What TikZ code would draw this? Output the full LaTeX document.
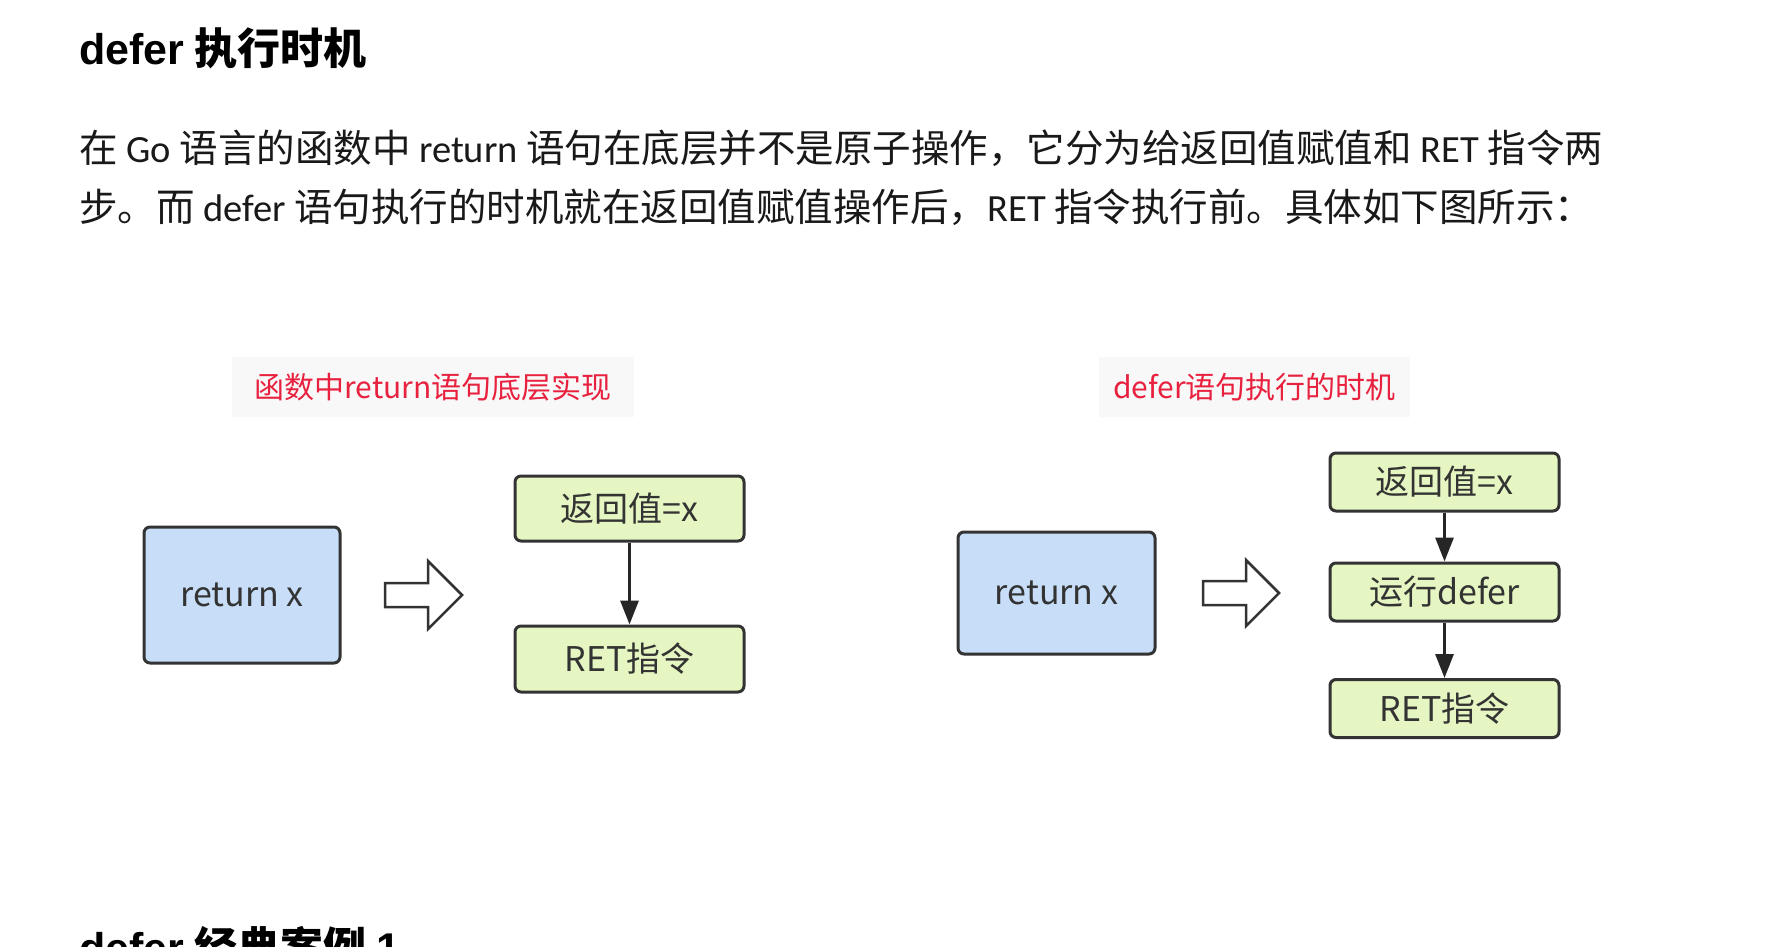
\documentclass[tikz,border=0pt]{standalone}
\usepackage{fontspec}
\setmainfont{Noto Sans CJK SC}
\newfontfamily\lat{Carlito}
\newfontfamily\hlat{Liberation Sans}
\usetikzlibrary{arrows.meta}
\definecolor{boxline}{HTML}{333333}
\definecolor{bluefill}{HTML}{C7DDF8}
\definecolor{greenfill}{HTML}{E5F6C2}
\definecolor{titlered}{HTML}{E8213F}
\definecolor{titlebg}{HTML}{F8F8F8}
\begin{document}
\begin{tikzpicture}[x=1pt,y=-1pt,
  bluebox/.style={draw=boxline,fill=bluefill,line width=3pt,rounded corners=6pt,inner sep=0pt,
    font=\fontsize{34}{40}\selectfont,text=boxline},
  greenbox/.style={draw=boxline,fill=greenfill,line width=3pt,rounded corners=6pt,inner sep=0pt,
    minimum width=229pt,font=\fontsize{34}{40}\selectfont,text=boxline},
  charttitle/.style={fill=titlebg,text=titlered,inner sep=0pt,minimum height=60pt,
    font=\fontsize{30}{36}\selectfont},
  conn/.style={draw=black!85,line width=3pt,-{Triangle[length=24pt,width=18pt]}},
  hollow/.style={draw=boxline,fill=white,line width=2.5pt,line join=miter},
  heading/.style={anchor=base west,inner sep=0pt,font=\fontsize{43}{50}\selectfont\bfseries},
  para/.style={anchor=base west,inner sep=0pt,font=\fontsize{38.5}{46}\selectfont,text=black!90}]
\useasboundingbox (0,0) rectangle (1776,946);
\fill[white] (0,0) rectangle (1776,946);
\begin{scope}
\clip (0,0) rectangle (1776,946);

% heading and paragraph
\node[heading] (h1) at (79,64) {{\hlat\bfseries defer} 执行时机};
\node[para] (p1) at (79,162) {在 {\lat Go} 语言的函数中 {\lat return} 语句在底层并不是原子操作，它分为给返回值赋值和 {\lat RET} 指令两};
\node[para] (p2) at (79,221) {步。而 {\lat defer} 语句执行的时机就在返回值赋值操作后，{\lat RET} 指令执行前。具体如下图所示：};

% left chart
\node[charttitle,minimum width=402pt] (t1) at (433,387) {函数中return语句底层实现};
\node[bluebox,minimum width=196pt,minimum height=136pt] (lb) at (242,595) {return x};
\node[greenbox,minimum height=65pt] (lg1) at (629.5,508.5) {返回值=x};
\node[greenbox,minimum height=66pt] (lg2) at (629.5,659) {RET指令};
\draw[conn] (lg1) -- (lg2);
\coordinate (la) at (385,595);
\draw[hollow] (la) ++(0,-12) -- ++(43,0) -- ++(0,-22) -- ++(34,34) -- ++(-34,34) -- ++(0,-22) -- ++(-43,0) -- cycle;

% right chart
\node[charttitle,minimum width=311pt] (t2) at (1254.5,387) {defer语句执行的时机};
\node[bluebox,minimum width=197pt,minimum height=122pt] (rb) at (1056.5,593) {return x};
\node[greenbox,minimum height=58pt] (rg1) at (1444.5,482) {返回值=x};
\node[greenbox,minimum height=58pt] (rg2) at (1444.5,592) {运行defer};
\node[greenbox,minimum height=58pt] (rg3) at (1444.5,708.5) {RET指令};
\draw[conn] (rg1) -- (rg2);
\draw[conn] (rg2) -- (rg3);
\coordinate (ra) at (1203,593);
\draw[hollow] (ra) ++(0,-12) -- ++(43,0) -- ++(0,-21) -- ++(33,33) -- ++(-33,33) -- ++(0,-21) -- ++(-43,0) -- cycle;

% next heading, cut off at the bottom as in the page
\node[heading] (h2) at (79,963) {{\hlat\bfseries defer} 经典案例 {\hlat\bfseries 1}};
\end{scope}
\end{tikzpicture}
\end{document}
